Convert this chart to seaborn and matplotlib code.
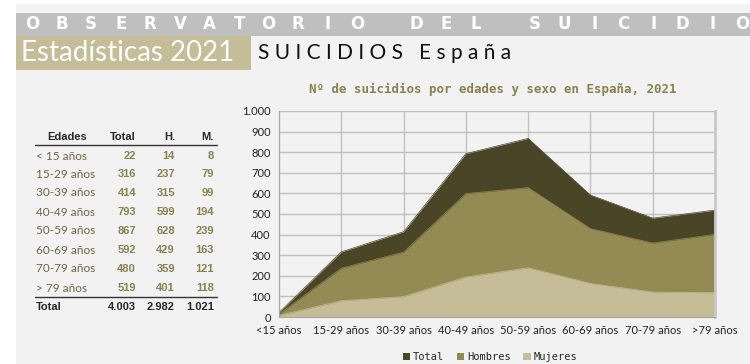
import numpy as np
import matplotlib
matplotlib.use("Agg")
import matplotlib.pyplot as plt
import seaborn as sns
import pandas as pd

# data
edades = ["<15 años", "15-29 años", "30-39 años", "40-49 años",
          "50-59 años", "60-69 años", "70-79 años", ">79 años"]
tabla_edades = ["< 15 años", "15-29 años", "30-39 años", "40-49 años",
                "50-59 años", "60-69 años", "70-79 años", "> 79 años"]
total = [22, 316, 414, 793, 867, 592, 480, 519]
hombres = [14, 237, 315, 599, 628, 429, 359, 401]
mujeres = [8, 79, 99, 194, 239, 163, 121, 118]
totales = ["4.003", "2.982", "1.021"]
yticks = [0, 100, 200, 300, 400, 500, 600, 700, 800, 900, 1000]

c_total = "#4b4527"
c_hombres = "#948a54"
c_mujeres = "#c4bd97"
c_text = "#8a8150"
bg = "#f2f2f2"

sns.set_style("white")
plt.rcParams["font.family"] = ["Lato", "DejaVu Sans"]
bold_font = ["Liberation Sans", "DejaVu Sans"]

W, H = 750, 364
fig = plt.figure(figsize=(7.5, 3.64), dpi=100)
fig.patch.set_facecolor("white")

def fx(x):
    return x / W

def fy(y):
    return 1 - y / H

def rect(x, y, w, h, c):
    fig.add_artist(plt.Rectangle((fx(x), fy(y + h)), w / W, h / H, transform=fig.transFigure,
                                 facecolor=c, edgecolor="none", zorder=-5))

# background panel and header
rect(16, 4, 750, 360, bg)
rect(16, 13, 750, 23, "#bfbfbf")
rect(16, 36, 235, 34, c_mujeres)
letters = "OBSERVATORIO DEL SUICIDIO"
x0, x1 = 32, 742
step = (x1 - x0) / (len(letters) - 1)
for i, ch in enumerate(letters):
    if ch != " ":
        fig.text(fx(x0 + i * step), fy(24), ch, color="white", fontsize=12,
                 family="DejaVu Sans", fontweight="bold", ha="center", va="center")
fig.text(fx(21), fy(53), "Estadísticas 2021", color="white", fontsize=20,
         ha="left", va="center")
fig.text(fx(258), fy(53), "S U I C I D I O S   E s p a ñ a", color="#111111", fontsize=15,
         ha="left", va="center")

# table
fs = 8.5
cols_x = [136, 175, 214]
fig.text(fx(47), fy(137), "Edades", fontsize=8, family=bold_font, fontweight="bold",
         ha="left", va="center")
for x, lab in zip(cols_x, ["Total", "H.", "M."]):
    fig.text(fx(x), fy(137), lab, fontsize=8, family=bold_font, fontweight="bold",
             ha="right", va="center")
fig.add_artist(plt.Line2D([fx(35), fx(217)], [fy(145), fy(145)], color="#333333", lw=1))
row_y = [156, 174, 193, 212, 231, 250, 269, 288]
for y, e, t, h, m in zip(row_y, tabla_edades, total, hombres, mujeres):
    fig.text(fx(36), fy(y), e, fontsize=fs, color="#6b6540", ha="left", va="center")
    for x, v in zip(cols_x, [t, h, m]):
        fig.text(fx(x), fy(y), str(v), fontsize=8, color=c_text, family=bold_font,
                 fontweight="bold", ha="right", va="center")
fig.add_artist(plt.Line2D([fx(35), fx(217)], [fy(297), fy(297)], color="#333333", lw=1))
fig.text(fx(36), fy(307), "Total", fontsize=8, family=bold_font, fontweight="bold",
         ha="left", va="center")
for x, v in zip(cols_x, totales):
    fig.text(fx(x), fy(307), v, fontsize=8, family=bold_font, fontweight="bold",
             ha="right", va="center")

# chart
ax = fig.add_axes([fx(279), fy(317), (715 - 279) / W, (317 - 111) / H])
ax.set_facecolor(bg)
df = pd.DataFrame({"x": np.arange(len(edades)), "Total": total,
                   "Hombres": hombres, "Mujeres": mujeres})
for col, c in [("Total", c_total), ("Hombres", c_hombres), ("Mujeres", c_mujeres)]:
    ax.fill_between(df["x"], 0, df[col], color=c, lw=0, zorder=2, label=col)
    sns.lineplot(data=df, x="x", y=col, ax=ax, color=c, lw=0.5, zorder=2, legend=False)

ax.set_xlim(0, len(edades) - 1)
ax.set_ylim(0, 1000)
ax.set_xticks(range(len(edades)))
ax.set_xticklabels(edades, fontsize=8, color="#222222")
ax.set_yticks(yticks)
ax.set_yticklabels([f"{v:,}".replace(",", ".") for v in yticks], fontsize=8, color="#222222")
ax.grid(True, color="#c0c0c0", lw=1, zorder=0)
ax.set_axisbelow(True)
ax.set_xlabel("")
ax.set_ylabel("")
ax.spines["top"].set_visible(False)
ax.spines["left"].set_color("#a6a6a6")
ax.spines["bottom"].set_color("#a6a6a6")
ax.spines["right"].set_color("#c8c8c8")
ax.spines["right"].set_linewidth(2)
ax.tick_params(axis="both", length=3, color="#a6a6a6", pad=3)

fig.text(fx(493), fy(89), "Nº de suicidios por edades y sexo en España, 2021",
         family="DejaVu Sans Mono", fontsize=9, fontweight="bold", color=c_text,
         ha="center", va="center")

handles, labels = ax.get_legend_handles_labels()
fig.legend(handles, labels, loc="center", bbox_to_anchor=(fx(490), fy(357)), ncol=3,
           frameon=False, prop={"family": "DejaVu Sans Mono", "size": 7.5},
           handlelength=0.7, handleheight=0.7, handletextpad=0.3, columnspacing=1.2)

fig.savefig("out.png", dpi=100, facecolor=fig.get_facecolor())
